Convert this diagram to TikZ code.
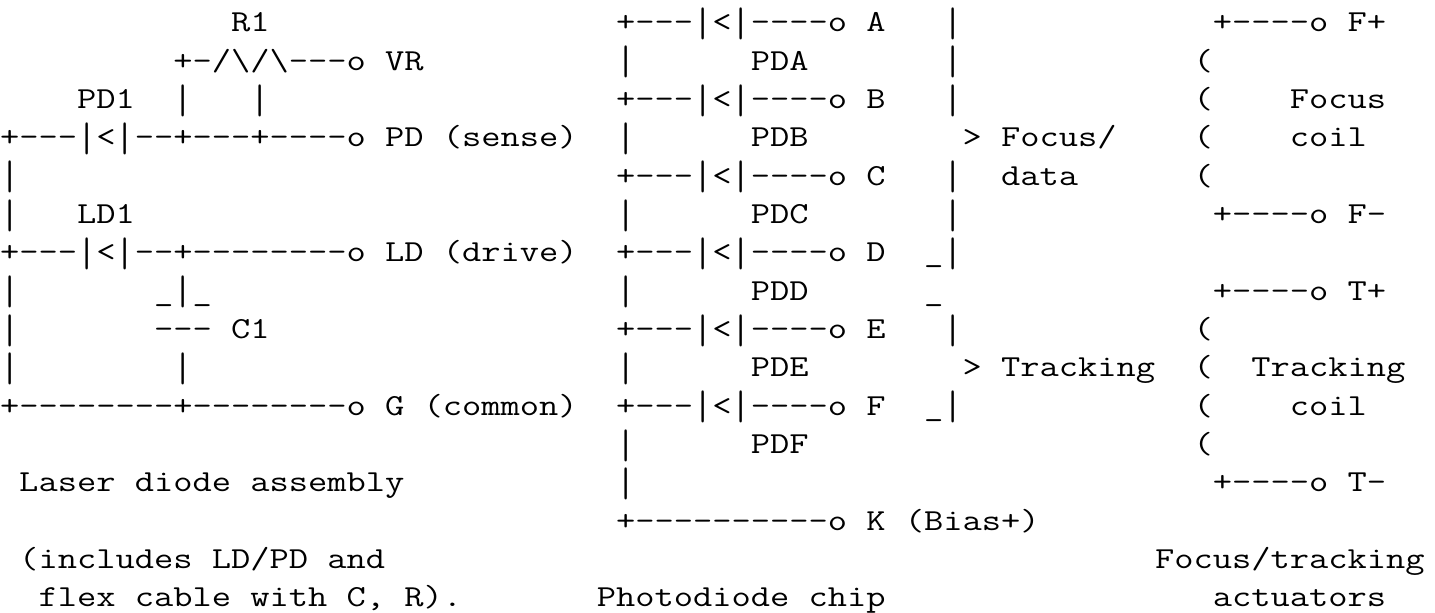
\documentclass[tikz,border=0pt]{standalone}
\usepackage{fontspec}
\usepackage{graphicx}
\newfontfamily\asciifont[FakeStretch=1.224]{Latin Modern Mono}
\tikzset{ascii/.style={inner sep=0pt,outer sep=0pt,anchor=base west,text=black,font=\asciifont\fontsize{30.55pt}{38pt}\selectfont}}
\newcommand{\cw}{19.25}
\newcommand{\rh}{38.33}
\newcommand{\tx}[3]{\node[ascii] (r#1c#2) at ({#2*\cw pt},{(613-32-#1*\rh)*1pt}) {#3};}
\newcommand{\bs}{\textbackslash}
\newcommand{\vb}{\raisebox{-4.6pt}{\scalebox{1}[1.35]{|}}}
\begin{document}
\begin{tikzpicture}
\useasboundingbox (0pt,0pt) rectangle (1435pt,613pt);
% left block
\tx{0}{12}{R1}
\tx{1}{9}{+-/\bs/\bs---o VR}
\tx{2}{4}{PD1}\tx{2}{9}{\vb}\tx{2}{13}{\vb}
\tx{3}{0}{+---\vb<\vb--+---+----o PD (sense)}
\tx{4}{0}{\vb}
\tx{5}{0}{\vb}\tx{5}{4}{LD1}
\tx{6}{0}{+---\vb<\vb--+--------o LD (drive)}
\tx{7}{0}{\vb}\tx{7}{8}{\_\vb\_}
\tx{8}{0}{\vb}\tx{8}{8}{--- C1}
\tx{9}{0}{\vb}\tx{9}{9}{\vb}
\tx{10}{0}{+--------+--------o G (common)}
\tx{12}{1}{Laser diode assembly}
\tx{14}{1}{(includes LD/PD and}
\tx{15}{2}{flex cable with C, R).}
% photodiode chip
\tx{0}{32}{+---\vb<\vb----o A}
\tx{1}{32}{\vb}\tx{1}{39}{PDA}
\tx{2}{32}{+---\vb<\vb----o B}
\tx{3}{32}{\vb}\tx{3}{39}{PDB}
\tx{4}{32}{+---\vb<\vb----o C}
\tx{5}{32}{\vb}\tx{5}{39}{PDC}
\tx{6}{32}{+---\vb<\vb----o D}
\tx{7}{32}{\vb}\tx{7}{39}{PDD}
\tx{8}{32}{+---\vb<\vb----o E}
\tx{9}{32}{\vb}\tx{9}{39}{PDE}
\tx{10}{32}{+---\vb<\vb----o F}
\tx{11}{32}{\vb}\tx{11}{39}{PDF}
\tx{12}{32}{\vb}
\tx{13}{32}{+----------o K (Bias+)}
\tx{15}{31}{Photodiode chip}
% brackets
\tx{0}{49}{\vb}\tx{1}{49}{\vb}\tx{2}{49}{\vb}
\tx{3}{50}{> Focus/}
\tx{4}{49}{\vb}\tx{4}{52}{data}
\tx{5}{49}{\vb}
\tx{6}{48}{\_\vb}
\tx{7}{48}{\_}
\tx{8}{49}{\vb}
\tx{9}{50}{> Tracking}
\tx{10}{48}{\_\vb}
% actuators
\tx{0}{63}{+----o F+}
\tx{1}{62}{(}
\tx{2}{62}{(}\tx{2}{67}{Focus}
\tx{3}{62}{(}\tx{3}{67}{coil}
\tx{4}{62}{(}
\tx{5}{63}{+----o F-}
\tx{7}{63}{+----o T+}
\tx{8}{62}{(}
\tx{9}{62}{(}\tx{9}{65}{Tracking}
\tx{10}{62}{(}\tx{10}{67}{coil}
\tx{11}{62}{(}
\tx{12}{63}{+----o T-}
\tx{14}{60}{Focus/tracking}
\tx{15}{63}{actuators}
\end{tikzpicture}
\end{document}
